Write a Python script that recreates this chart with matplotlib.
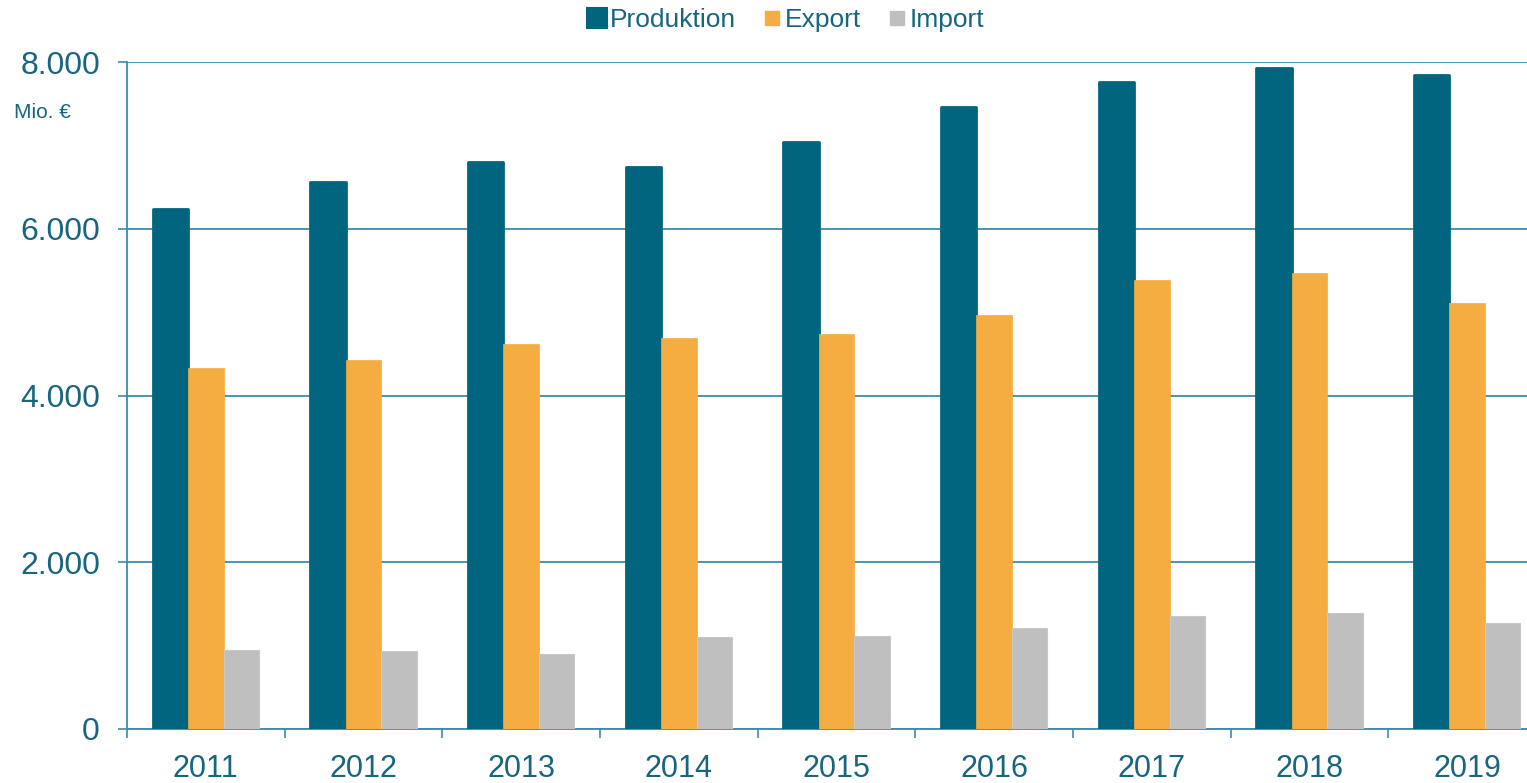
import matplotlib
matplotlib.use("Agg")
import matplotlib.pyplot as plt
import numpy as np
from matplotlib.lines import Line2D

years = ["2011", "2012", "2013", "2014", "2015", "2016", "2017", "2018", "2019"]
produktion = [6235, 6565, 6805, 6745, 7035, 7455, 7755, 7925, 7840]
export = [4330, 4425, 4615, 4690, 4735, 4965, 5385, 5465, 5110]
imp = [945, 935, 900, 1100, 1115, 1210, 1355, 1390, 1270]
series_names = ["Produktion", "Export", "Import"]

plt.rcParams['font.family'] = ['Liberation Sans', 'DejaVu Sans']

C_PROD = "#02657F"
C_EXP = "#F5AC40"
C_IMP = "#BFBFBF"
TXT = "#17657F"
LINE = "#3A8CA8"

W, H = 1527, 783
fig = plt.figure(figsize=(W / 100, H / 100), dpi=100)
ax_left, ax_right, ax_top, ax_bot = 127, 1546, 62, 729
ax = fig.add_axes([ax_left / W, (H - ax_bot) / H, (ax_right - ax_left) / W, (ax_bot - ax_top) / H])

x = np.arange(len(years))
bw = 0.225
ax.bar(x - bw, produktion, bw, color=C_PROD, edgecolor=C_PROD, linewidth=2.0, joinstyle='round', zorder=3)
ax.bar(x, export, bw, color=C_EXP, edgecolor=C_EXP, linewidth=0.5, zorder=3)
ax.bar(x + bw, imp, bw, color=C_IMP, edgecolor="#C8C8C8", linewidth=0.8, zorder=3)

ax.set_xlim(-0.5, len(years) - 0.5)
ax.set_ylim(0, 8000)
ax.set_yticks([0, 2000, 4000, 6000, 8000])
ax.set_yticklabels(["0", "2.000", "4.000", "6.000", "8.000"])
ax.yaxis.grid(True, color=LINE, linewidth=1.3, zorder=0)
ax.set_axisbelow(True)

ax.set_xticks(x)
ax.set_xticklabels(years)
ax.set_xticks(np.arange(-0.5, len(years) + 0.5, 1), minor=True)
ax.tick_params(axis='x', which='major', length=0, pad=18, labelsize=22, labelcolor=TXT)
ax.tick_params(axis='x', which='minor', length=6.5, width=1.2, color=LINE)
ax.tick_params(axis='y', length=6.5, width=1.2, color=LINE, pad=13, labelsize=23, labelcolor=TXT)

for s in ['top', 'right']:
    ax.spines[s].set_visible(False)
for s in ['left', 'bottom']:
    ax.spines[s].set_color(LINE)
    ax.spines[s].set_linewidth(1.3)

fig.text(14 / W, 1 - 112 / H, "Mio. €", fontsize=15, color=TXT, ha='left', va='center')

handles = [
    Line2D([], [], marker='s', linestyle='none', markersize=14, color=C_PROD,
           markeredgewidth=1.5, markeredgecolor=C_PROD),
    Line2D([], [], marker='s', linestyle='none', markersize=10, color=C_EXP),
    Line2D([], [], marker='s', linestyle='none', markersize=10, color=C_IMP),
]
leg = fig.legend(handles, series_names, loc='center', bbox_to_anchor=(786 / W, 1 - 20 / H),
                 ncol=3, frameon=False, fontsize=19, handlelength=0.7, handletextpad=0.15,
                 columnspacing=1.0, labelcolor=TXT)
for h in leg.legend_handles:
    h.set_solid_joinstyle('round')

fig.savefig("out.png", dpi=100)
